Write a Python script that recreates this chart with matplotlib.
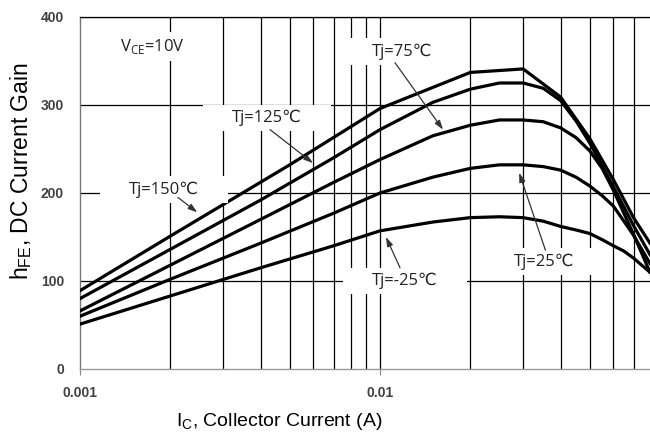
import matplotlib
matplotlib.use("Agg")
import matplotlib.pyplot as plt
from matplotlib.path import Path

# ---- data ----
ic_150 = [0.001, 0.002, 0.005, 0.01, 0.02, 0.03, 0.04, 0.05, 0.06, 0.07, 0.0794]
hfe_150 = [89, 151, 232, 296, 337, 341, 309, 262, 215, 172, 143]

ic_125 = [0.001, 0.002, 0.004, 0.007, 0.01, 0.015, 0.02, 0.025, 0.03, 0.035,
          0.04, 0.045, 0.05, 0.06, 0.07, 0.0794]
hfe_125 = [80, 136, 192, 240, 272, 303, 318, 325, 325, 319, 305, 282, 257, 207, 163, 130]

ic_75 = [0.001, 0.002, 0.004, 0.007, 0.01, 0.015, 0.02, 0.025, 0.03, 0.035,
         0.04, 0.045, 0.05, 0.055, 0.06, 0.07, 0.0794]
hfe_75 = [66, 118, 170, 212, 238, 265, 277, 283, 283, 281, 274, 263, 248, 228, 203, 153, 110]

ic_25 = [0.001, 0.002, 0.004, 0.007, 0.01, 0.015, 0.02, 0.025, 0.03, 0.035,
         0.04, 0.045, 0.05, 0.055, 0.06, 0.065, 0.07, 0.0794]
hfe_25 = [60, 102, 143, 177, 200, 218, 228, 232, 232, 230, 226, 218, 208, 197, 185, 168, 152, 120]

ic_m25 = [0.001, 0.002, 0.004, 0.007, 0.01, 0.015, 0.02, 0.025, 0.03, 0.035,
          0.04, 0.045, 0.05, 0.055, 0.06, 0.065, 0.07, 0.0794]
hfe_m25 = [51, 83, 115, 140, 157, 167, 172, 173, 172, 168, 162, 158, 154, 147, 140, 134, 126, 110]

series = [(ic_150, hfe_150), (ic_125, hfe_125), (ic_75, hfe_75), (ic_25, hfe_25), (ic_m25, hfe_m25)]

grid_x = [0.002, 0.003, 0.004, 0.005, 0.006, 0.007, 0.008, 0.009,
          0.01, 0.02, 0.03, 0.04, 0.05, 0.06, 0.07]
grid_y = [100, 200, 300, 400]
x_ticks = [0.001, 0.01]
x_tick_labels = ["0.001", "0.01"]
y_ticks = [0, 100, 200, 300, 400]
y_tick_labels = ["0", "100", "200", "300", "400"]

# labels: text, text position, arrow tail, arrow tip
labels = [
    ("Tj=150\u2103", (0.00190, 204), (0.00212, 195), (0.00246, 178)),
    ("Tj=125\u2103", (0.00420, 285), (0.00430, 272), (0.00598, 234)),
    ("Tj=75\u2103", (0.01184, 361), (0.01122, 348), (0.01622, 272)),
    ("Tj=25\u2103", (0.0352, 122), (0.0356, 135), (0.0291, 223)),
    ("Tj=-25\u2103", (0.01212, 100), (0.01166, 115), (0.01047, 150)),
]

SANS = ["Liberation Sans", "DejaVu Sans"]
LBL = ["Open Sans", "DejaVu Sans"]

fig = plt.figure(figsize=(6.5, 4.41), dpi=100)
ax = fig.add_axes([80 / 650, 1 - 369 / 441, 570 / 650, 352 / 441])
ax.set_xscale("log")
ax.set_xlim(0.001, 10 ** (-1.1))
ax.set_ylim(0, 400)

for gx in grid_x:
    ax.axvline(gx, color="black", lw=0.9, zorder=1)
for gy in grid_y:
    ax.axhline(gy, color="black", lw=0.9, zorder=1)

for xs, ys in series:
    ax.plot(xs, ys, color="black", lw=2.3, zorder=3, solid_joinstyle="miter")


def wide_box(x0, y0, width, height, mutation_size):
    px = 1.75 * mutation_size
    py = 0.3 * mutation_size
    x0 -= px
    y0 -= py
    w = width + 2 * px
    h = height + 2 * py
    return Path([(x0, y0), (x0 + w, y0), (x0 + w, y0 + h), (x0, y0 + h), (x0, y0)], closed=True)


for txt, pos, tail, tip in labels:
    ax.text(pos[0], pos[1], txt, ha="center", va="center", fontsize=12,
            family=LBL, color="#222222", zorder=4,
            bbox=dict(boxstyle=wide_box, fc="white", ec="none"))
    ax.annotate("", xy=tip, xytext=tail, zorder=5,
                arrowprops=dict(arrowstyle="-|>,head_length=0.55,head_width=0.18",
                                color="#333333", lw=0.9, shrinkA=0, shrinkB=0))

ax.text(0.00174, 367, r"V$_{\mathregular{CE}}$=10V", ha="center", va="center",
        fontsize=12, family=LBL, color="#222222", zorder=4,
        bbox=dict(boxstyle=wide_box, fc="white", ec="none"))

ax.set_xticks(x_ticks)
ax.set_xticklabels(x_tick_labels)
ax.minorticks_off()
ax.set_yticks(y_ticks)
ax.set_yticklabels(y_tick_labels)
ax.tick_params(axis="x", length=4, color="#888888", pad=8, labelsize=10, labelcolor="#404040")
ax.tick_params(axis="y", length=0, pad=11.5, labelsize=10, labelcolor="#404040")
for lab in ax.get_xticklabels() + ax.get_yticklabels():
    lab.set_family(SANS)
    lab.set_fontweight("bold")

ax.spines["right"].set_visible(False)
ax.spines["top"].set_color("black")
ax.spines["top"].set_linewidth(0.9)
ax.spines["left"].set_color("#777777")
ax.spines["bottom"].set_color("#999999")
ax.spines["left"].set_linewidth(1.0)
ax.spines["bottom"].set_linewidth(1.0)

ax.set_xlabel(r"I$_{\mathregular{C}}$, Collector Current (A)", fontsize=14,
              family=SANS)
ax.xaxis.set_label_coords((279 - 80) / 570, (369 - 411) / 352)
ax.set_ylabel(r"h$_{\mathregular{FE}}$, DC Current Gain", fontsize=16.5,
              family=SANS)
ax.yaxis.set_label_coords((34 - 80) / 570, (369 - 171) / 352)

fig.savefig("out.png", dpi=100)
